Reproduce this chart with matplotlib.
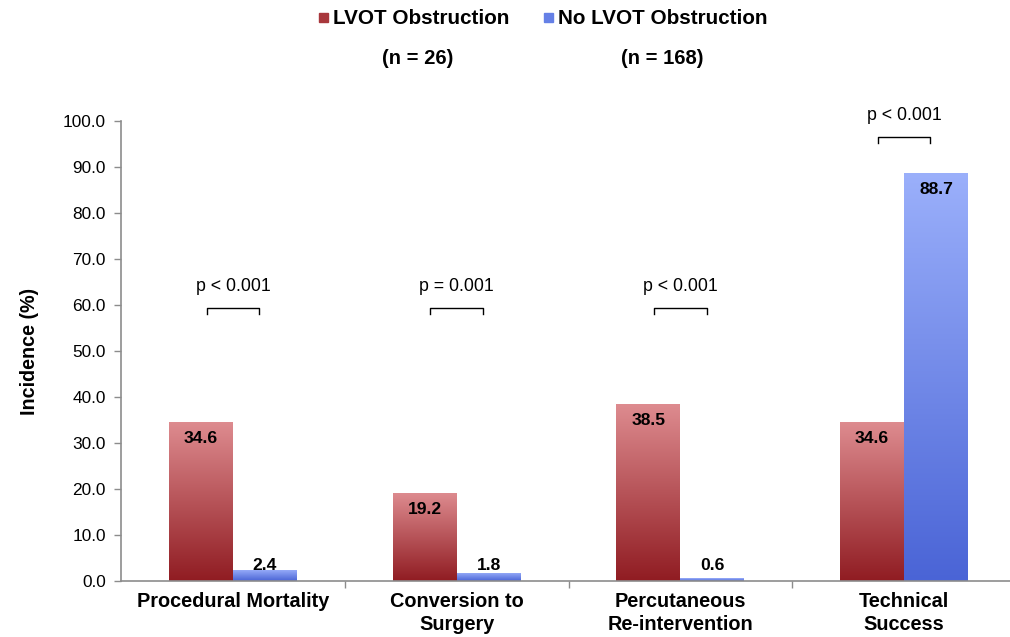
import numpy as np
import matplotlib
matplotlib.use("Agg")
import matplotlib.pyplot as plt
from matplotlib.colors import LinearSegmentedColormap
from matplotlib.patches import Rectangle

plt.rcParams['font.family'] = ['Liberation Sans', 'DejaVu Sans']

categories = ["Procedural Mortality", "Conversion to\nSurgery",
              "Percutaneous\nRe-intervention", "Technical\nSuccess"]
lvot = [34.6, 19.2, 38.5, 34.6]
no_lvot = [2.4, 1.8, 0.6, 88.7]
series_names = ["LVOT Obstruction", "No LVOT Obstruction"]
group_sizes = ["(n = 26)", "(n = 168)"]
p_labels = ["p < 0.001", "p = 0.001", "p < 0.001", "p < 0.001"]

red_cmap = LinearSegmentedColormap.from_list("red_grad", ["#901c22", "#de8c90"])
blue_cmap = LinearSegmentedColormap.from_list("blue_grad", ["#4a64d6", "#9bb0fb"])

fig = plt.figure(figsize=(10.10, 6.37), dpi=100)
ax = fig.add_axes([121/1010, 56/637, 895/1010, 460/637])

x = np.arange(len(categories))
w = 0.286
bars_r = ax.bar(x - w/2, lvot, w, color="none", edgecolor="none")
bars_b = ax.bar(x + w/2, no_lvot, w, color="none", edgecolor="none")

grad = np.linspace(0, 1, 256).reshape(-1, 1)
for bars, cmap in ((bars_r, red_cmap), (bars_b, blue_cmap)):
    for b in bars:
        x0, y0 = b.get_x(), b.get_y()
        bw, bh = b.get_width(), b.get_height()
        im = ax.imshow(grad, cmap=cmap, origin="lower", aspect="auto",
                       extent=[x0, x0 + bw, y0, y0 + bh], zorder=2)
        im.set_clip_path(b)

ax.set_xlim(-0.5, 3.5)
ax.set_ylim(0, 100)

for bars, vals in ((bars_r, lvot), (bars_b, no_lvot)):
    for b, v in zip(bars, vals):
        cx = b.get_x() + b.get_width() / 2
        ty = v - 3.6 if v > 10 else 3.3
        ax.text(cx, ty, f"{v:.1f}", ha="center", va="center",
                fontsize=12.6, fontweight="bold", color="black", zorder=4)

# significance brackets
for i, (p, a, b) in enumerate(zip(p_labels, lvot, no_lvot)):
    top = max(a, b)
    yb = 59.3 if top < 55 else 96.5
    h = 1.2
    ax.plot([i - 0.117, i - 0.117, i + 0.117, i + 0.117],
            [yb - h, yb, yb, yb - h], color="black", lw=1.0,
            clip_on=False, zorder=4)
    ax.text(i, yb + 4.7, p, ha="center", va="center", fontsize=12.8,
            clip_on=False)

ax.set_yticks(np.arange(0, 101, 10))
ax.set_yticklabels([f"{v:.1f}" for v in np.arange(0, 101, 10)], fontsize=12.4)
ax.set_xticks([0.5, 1.5, 2.5])
ax.set_xticklabels([])
ax.tick_params(axis="x", length=5, color="#8c8c8c", width=1)
ax.tick_params(axis="y", length=5, color="#8c8c8c", width=1, pad=6)
for i, c in enumerate(categories):
    ax.text(i, -2.3, c, ha="center", va="top", fontsize=14.3,
            fontweight="bold", linespacing=1.3)

for s in ("top", "right"):
    ax.spines[s].set_visible(False)
for s in ("left", "bottom"):
    ax.spines[s].set_color("#8c8c8c")
    ax.spines[s].set_linewidth(1.2)

ax.set_ylabel("Incidence (%)", fontsize=14.2, fontweight="bold", labelpad=17)

# legend row and group sizes
leg_y = 1 - 17/637
for sx, tx, col, name in ((323, 333, "#a8373c", series_names[0]),
                           (548, 558, "#6580e6", series_names[1])):
    fig.patches.append(Rectangle((sx/1010 - 4.5/1010, leg_y - 4.5/637),
                                 9/1010, 9/637, transform=fig.transFigure,
                                 color=col))
    fig.text(tx/1010, leg_y - 1.5/637, name, ha="left", va="center",
             fontsize=14.9, fontweight="bold")
for cx, t in ((418, group_sizes[0]), (662, group_sizes[1])):
    fig.text(cx/1010, 1 - 59/637, t, ha="center", va="center", fontsize=14.5,
             fontweight="bold")

fig.savefig("out.png", dpi=100)
